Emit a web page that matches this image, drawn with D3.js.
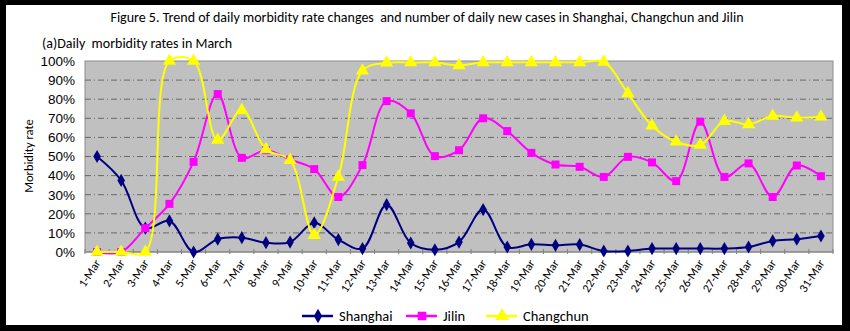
<!DOCTYPE html>
<html><head><meta charset="utf-8">
<script src="https://cdn.jsdelivr.net/npm/d3@7"></script>
<style>
html,body{margin:0;padding:0;background:#000;}
svg{display:block;font-family:Calibri,"Carlito","Liberation Sans","Open Sans",sans-serif;}
</style></head>
<body><svg id="c" width="850" height="331"></svg>
<script>
const days = d3.range(1, 32).map(d => d + "-Mar");
const shanghai = [50,37.5,12.5,16.3,0,6.7,7.5,4.9,5.2,15.3,6.5,1.8,24.8,4.7,1.2,5.2,22.2,2.6,4,3.5,3.9,0.5,0.5,1.8,1.8,1.8,1.8,2.6,5.8,6.7,8.4];
const jilin = [0,0,12.5,25.2,47.2,82.7,49.3,53.3,48.4,43.4,28.8,45.5,79,72.6,50.2,53.3,70,63.3,51.9,45.8,44.6,39.3,49.8,46.9,37.1,68.2,39.3,46.4,28.8,45.3,39.7];
const changchun = [0,0,0,100,100,58.6,74.3,53.7,48.1,8.8,39.3,94.9,99.1,99.2,99.2,97.7,99.3,99.3,99.3,99.3,99.3,99.5,83,66.1,57.7,56,68.5,66.8,71.2,70.3,70.8];
const yTicks = [0,10,20,30,40,50,60,70,80,90,100];
const seriesNames = ["Shanghai","Jilin","Changchun"];

const svg = d3.select("#c");
svg.append("rect").attr("x",6).attr("y",5).attr("width",836).attr("height",320).attr("fill","#fff");

const m = {l:85, r:833, t:61, b:252};
const x = d3.scalePoint().domain(days).range([m.l, m.r]).padding(0.5);
const step = x.step();
const y = d3.scaleLinear().domain([0,100]).range([m.b, m.t]);

svg.append("rect").attr("x",m.l).attr("y",m.t).attr("width",m.r-m.l).attr("height",m.b-m.t)
  .attr("fill","#c0c0c0").attr("stroke","#8c8c8c").attr("stroke-width",1);

// gridlines
svg.append("g").selectAll("line").data(yTicks.filter(t=>t>0 && t<100)).join("line")
  .attr("x1",m.l).attr("x2",m.r).attr("y1",d=>y(d)).attr("y2",d=>y(d))
  .attr("stroke","#505050").attr("stroke-width",0.8).attr("stroke-dasharray","6,3,1,3");

// y axis
const yAxis = svg.append("g").attr("transform",`translate(${m.l},0)`)
  .call(d3.axisLeft(y).tickValues(yTicks).tickFormat(d=>d+"%").tickSize(0).tickPadding(10));
yAxis.select(".domain").remove();
yAxis.selectAll("text").attr("font-size",13.5).attr("fill","#000");

// x axis
svg.append("line").attr("x1",m.l).attr("x2",m.r).attr("y1",m.b).attr("y2",m.b).attr("stroke","#808080");
const boundaries = d3.range(0, days.length+1).map(i => m.l + i*step);
svg.append("g").selectAll("line").data(boundaries).join("line")
  .attr("x1",d=>d).attr("x2",d=>d).attr("y1",m.b-3).attr("y2",m.b+2).attr("stroke","#808080");
svg.append("g").selectAll("text").data(days).join("text")
  .attr("transform",d=>`translate(${x(d)+4},${m.b+11}) rotate(-57)`)
  .attr("text-anchor","end").attr("font-size",12).attr("fill","#000").text(d=>d);

// lines
const line = d3.line().x((d,i)=>x(days[i])).y(d=>y(d)).curve(d3.curveCatmullRom.alpha(0.5));
const colors = ["#000080","#ff00ff","#ffff00"];
const data = [shanghai, jilin, changchun];
const symTypes = [d3.symbolDiamond, d3.symbolSquare, d3.symbolTriangle];
const symSizes = [50, 64, 75];
data.forEach((s,k)=>{
  svg.append("path").datum(s).attr("d",line).attr("fill","none")
    .attr("stroke",colors[k]).attr("stroke-width",2);
});
data.forEach((s,k)=>{
  svg.append("g").selectAll("path").data(s).join("path")
    .attr("transform",(d,i)=>`translate(${x(days[i])},${y(d)})`)
    .attr("d",d3.symbol().type(symTypes[k]).size(symSizes[k]))
    .attr("fill",colors[k]);
});

// titles
svg.append("text").attr("x",427).attr("y",22).attr("text-anchor","middle").attr("font-size",14)
  .attr("xml:space","preserve")
  .text("Figure 5. Trend of daily morbidity rate changes  and number of daily new cases in Shanghai, Changchun and Jilin");
svg.append("text").attr("x",42).attr("y",48).attr("font-size",14)
  .attr("xml:space","preserve").text("(a)Daily  morbidity rates in March");
svg.append("text").attr("transform","translate(33,156) rotate(-90)").attr("text-anchor","middle")
  .attr("font-size",12.5).text("Morbidity rate");

// legend
const legX = [302, 406, 486];
seriesNames.forEach((n,k)=>{
  const g = svg.append("g").attr("transform",`translate(${legX[k]},316)`);
  g.append("line").attr("x1",0).attr("x2",31).attr("stroke",colors[k]).attr("stroke-width",2.5);
  g.append("path").attr("transform","translate(16,0)").attr("d",d3.symbol().type(symTypes[k]).size(symSizes[k]+10)).attr("fill",colors[k]);
  g.append("text").attr("x",37).attr("y",5).attr("font-size",14.5).text(n);
});
</script></body></html>
